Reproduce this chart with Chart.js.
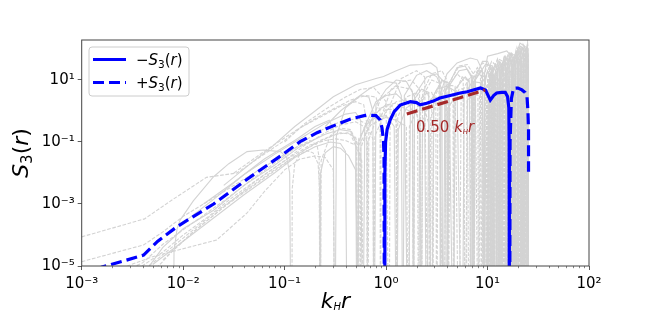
<!DOCTYPE html>
<html><head><meta charset="utf-8">
<script src="https://cdn.jsdelivr.net/npm/chart.js@4/dist/chart.umd.min.js"></script>
<style>html,body{margin:0;padding:0;background:#fff}canvas{display:block}</style>
</head><body>
<canvas id="c" width="654" height="333"></canvas>
<script>
// All series points are [log10(k_H r), log10(S3)].
// A value of -9 marks a sign change (the log curve plunges below the axis).
const minusS3 = [[-0.016,-9],[-0.012,-2.0],[-0.005,-1.0],[0.01,-0.6],[0.04,-0.29],[0.08,-0.02],[0.139,0.19],[0.24,0.30],[0.30,0.27],[0.336,0.2],[0.40,0.25],[0.465,0.32],[0.53,0.42],[0.633,0.5],[0.73,0.58],[0.80,0.62],[0.93,0.74],[0.98,0.68],[1.027,0.35],[1.06,0.5],[1.09,0.58],[1.14,0.6],[1.175,0.6],[1.197,0.47],[1.21,0.1],[1.213,-1.0],[1.215,-9]];
const plusS3 = [[-3.0,-5.35],[-2.8,-5.03],[-2.6,-4.85],[-2.39,-4.65],[-2.25,-4.2],[-2.06,-3.73],[-1.70,-3.0],[-1.37,-2.2],[-1.04,-1.45],[-0.847,-0.99],[-0.68,-0.70],[-0.52,-0.48],[-0.35,-0.26],[-0.19,-0.13],[-0.10,-0.15],[-0.058,-0.29],[-0.04,-0.55],[-0.026,-0.94],[-0.02,-1.5],[-0.016,-9],
  [0.5,null],
  [1.218,-9],[1.222,-1.0],[1.235,0.4],[1.256,0.73],[1.30,0.74],[1.339,0.68],[1.37,0.6],[1.389,0.46],[1.398,0.0],[1.404,-0.61],[1.404,-1.96]];
// reference power law 0.50 k_H r (actual values)
const refLineX = [1.6, 9.5];
const refLineY = [0.8, 4.75];
const xTickValues = [1e-3, 1e-2, 1e-1, 1e0, 1e1, 1e2];
const yTickValues = [1e-5, 1e-3, 1e-1, 1e1];

const graySolid = [
  [[-2.1,-9],[-2.09,-4.5],[-2.06,-3.8],[-2.03,-3.52],[-1.9,-2.9],[-1.70,-2.12],[-1.55,-1.7],[-1.37,-1.31],[-1.21,-1.26],[-1.04,-1.31],[-0.98,-1.5],[-0.95,-2.0],[-0.935,-9]],
  [[-2.4,-5.3],[-2.2,-4.4],[-2.0,-3.8],[-1.7,-3.2],[-1.4,-2.4],[-1.1,-1.75],[-0.85,-1.15],[-0.6,-0.75],[-0.45,-0.6],[-0.35,-0.65],[-0.3,-1.0],[-0.285,-9],[-0.27,-1.0],[-0.2,-0.45],[-0.1,-0.2],[0.0,-0.15],[0.08,-0.5],[0.105,-9],[0.12,-0.6],[0.2,0.1],[0.3,0.3],[0.38,0.1],[0.40,-9],[0.42,0.2],[0.5,0.7],[0.6,0.8],[0.7,0.6],[0.75,-9],[0.77,0.5],[0.85,0.95],[0.95,0.9],[0.99,-9],[1.01,0.8],[1.08,1.2],[1.12,0.9],[1.13,-9],[1.15,1.0],[1.22,1.3],[1.27,1.0],[1.28,-9],[1.30,1.2],[1.36,1.5],[1.395,1.3],[1.40,-9]],
  [[-1.8,-3.0],[-1.5,-2.3],[-1.2,-1.55],[-0.9,-0.95],[-0.7,-0.5],[-0.56,-0.3],[-0.52,-0.6],[-0.505,-9],[-0.49,-0.8],[-0.4,0.1],[-0.25,0.5],[-0.17,0.45],[-0.13,0.0],[-0.12,-9],[-0.10,0.2],[0.0,0.7],[0.1,1.0],[0.2,0.95],[0.26,0.6],[0.27,-9],[0.28,0.5],[0.4,1.1],[0.5,1.2],[0.58,0.9],[0.60,-9],[0.62,0.8],[0.72,1.3],[0.8,1.35],[0.85,1.1],[0.86,-9],[0.88,1.0],[0.98,1.5],[1.05,1.45],[1.08,-9],[1.1,1.3],[1.18,1.7],[1.24,1.6],[1.26,-9],[1.28,1.5],[1.32,2.1],[1.36,2.0],[1.39,1.6],[1.40,-9]],
  [[-1.6,-2.4],[-1.3,-1.6],[-1.14,-1.2],[-0.9,-0.5],[-0.7,0.0],[-0.52,0.46],[-0.3,0.85],[-0.1,1.05],[-0.025,1.11],[0.1,1.3],[0.24,1.48],[0.35,1.5],[0.44,1.55],[0.5,1.4],[0.53,0.9],[0.535,-9],[0.54,0.6],[0.6,1.2],[0.7,1.55],[0.83,1.71],[0.9,1.65],[0.95,1.3],[0.96,-9],[0.97,1.2],[1.0,1.77],[1.1,1.85],[1.19,1.94],[1.25,1.7],[1.255,-9],[1.26,1.6],[1.32,2.19],[1.36,2.1],[1.39,2.03],[1.40,1.5],[1.401,-9]],
  [[-2.0,-3.6],[-1.7,-2.85],[-1.4,-2.05],[-1.1,-1.4],[-0.8,-0.8],[-0.6,-0.4],[-0.4,-0.1],[-0.3,-0.05],[-0.25,-0.3],[-0.23,-9],[-0.21,-0.5],[-0.1,0.3],[0.0,0.5],[0.1,0.55],[0.18,0.3],[0.22,-9],[0.24,0.2],[0.35,0.7],[0.42,0.6],[0.45,-9],[0.47,0.5],[0.55,1.0],[0.62,0.9],[0.665,-9],[0.68,0.7],[0.78,1.1],[0.82,0.95],[0.84,-9],[0.86,0.9],[0.93,1.3],[0.97,1.2],[1.00,-9],[1.02,1.0],[1.07,1.45],[1.1,1.35],[1.11,-9],[1.13,1.2],[1.18,1.55],[1.21,1.4],[1.23,-9],[1.25,1.3],[1.29,1.75],[1.33,1.6],[1.35,-9],[1.36,1.4],[1.38,1.8],[1.40,1.2],[1.401,-9]],
  [[-0.65,-9],[-0.645,-2.0],[-0.6,-1.35],[-0.52,-1.15],[-0.45,-1.2],[-0.37,-1.45],[-0.3,-1.9],[-0.26,-9]],
  [[0.96,-9],[0.97,0.8],[1.0,1.3],[1.02,1.2],[1.025,-9],[1.035,1.0],[1.06,1.4],[1.08,1.3],[1.085,-9],[1.095,1.1],[1.12,1.6],[1.14,1.5],[1.145,-9],[1.155,1.3],[1.18,1.75],[1.2,1.6],[1.205,-9],[1.215,1.4],[1.24,1.85],[1.26,1.7],[1.265,-9],[1.275,1.5],[1.3,2.0],[1.32,1.9],[1.325,-9],[1.335,1.6],[1.36,2.1],[1.38,1.95],[1.385,-9]],
  [[1.0,-9],[1.01,0.9],[1.04,1.35],[1.055,1.2],[1.06,-9],[1.07,1.1],[1.1,1.55],[1.115,1.4],[1.12,-9],[1.13,1.2],[1.16,1.7],[1.175,1.5],[1.18,-9],[1.19,1.3],[1.22,1.8],[1.235,1.6],[1.24,-9],[1.25,1.4],[1.28,1.95],[1.295,1.8],[1.30,-9],[1.31,1.5],[1.34,2.05],[1.355,1.9],[1.36,-9],[1.37,1.7],[1.39,2.1],[1.40,1.9],[1.401,-9]],
  [[-2.3,-4.95],[-2.0,-4.2],[-1.7,-3.45],[-1.4,-2.7],[-1.1,-2.0],[-0.9,-1.5],[-0.7,-1.15],[-0.55,-1.0],[-0.45,-1.05],[-0.4,-1.3],[-0.38,-9]],
  [[-0.6,-0.5],[-0.45,0.0],[-0.3,0.4],[-0.15,0.75],[0.0,0.95],[0.1,0.9],[0.15,0.5],[0.165,-9],[0.18,0.5],[0.3,1.15],[0.4,1.3],[0.5,1.1],[0.55,0.7],[0.56,-9],[0.58,0.6],[0.7,1.4],[0.78,1.45],[0.84,1.1],[0.85,-9],[0.87,1.0],[0.95,1.6],[1.0,1.6],[1.04,1.3],[1.05,-9]]
];
const grayDashed = [
  [[-3,-4.06],[-2.38,-3.48],[-2.1,-2.85],[-1.77,-2.14],[-1.47,-2.0],[-1.25,-1.5],[-1.0,-0.95],[-0.85,-0.55],[-0.65,-0.2],[-0.45,0.15],[-0.3,0.3],[-0.22,0.2],[-0.19,-0.4],[-0.18,-9],[-0.17,-0.5],[-0.05,0.4],[0.1,0.8],[0.25,0.7],[0.31,0.2],[0.32,-9],[0.33,0.3],[0.45,1.0],[0.52,0.9],[0.57,-9],[0.59,0.7],[0.7,1.2],[0.76,1.0],[0.78,-9],[0.8,0.9],[0.9,1.4],[0.94,1.2],[0.96,-9],[0.98,1.1],[1.04,1.6],[1.09,1.45],[1.10,-9],[1.12,1.3],[1.17,1.75],[1.2,1.6],[1.22,-9],[1.24,1.4],[1.3,1.9],[1.34,1.7],[1.345,-9],[1.35,1.5],[1.38,1.95],[1.40,1.7],[1.401,-9]],
  [[-3,-4.86],[-2.39,-4.32],[-2.2,-3.9],[-2.0,-3.4],[-1.7,-2.8],[-1.4,-2.2],[-1.1,-1.6],[-0.9,-1.2],[-0.75,-0.95],[-0.68,-1.1],[-0.66,-1.5],[-0.65,-9],[-0.64,-1.6],[-0.55,-0.8],[-0.45,-0.55],[-0.35,-0.6],[-0.29,-1.0],[-0.28,-9],[-0.27,-0.9],[-0.15,-0.2],[0.0,0.2],[0.1,0.25],[0.2,0.05],[0.3,-0.1],[0.34,-0.6],[0.35,-9],[0.36,-0.3],[0.45,0.4],[0.55,0.5],[0.6,0.2],[0.61,-9],[0.63,0.2],[0.72,0.7],[0.8,0.75],[0.85,0.3],[0.855,-9],[0.87,0.4],[0.95,0.9],[0.99,0.7],[0.995,-9],[1.0,0.6],[1.05,1.1],[1.08,0.9],[1.09,-9],[1.1,0.8],[1.15,1.25],[1.19,1.1],[1.2,-9],[1.21,1.0],[1.26,1.5],[1.3,1.3],[1.31,-9],[1.32,1.2],[1.37,1.7],[1.40,1.4],[1.401,-9]],
  [[-2.8,-5.3],[-2.3,-4.7],[-1.67,-4.16],[-1.37,-3.29],[-1.2,-2.6],[-1.0,-1.9],[-0.85,-1.55],[-0.7,-1.45],[-0.6,-1.5],[-0.52,-1.9],[-0.505,-9]],
  [[-0.93,-9],[-0.925,-2.5],[-0.9,-1.7],[-0.85,-1.4],[-0.78,-1.28],[-0.72,-1.35],[-0.67,-1.7],[-0.655,-2.5],[-0.65,-9]],
  [[-2.6,-5.2],[-2.4,-4.9],[-2.2,-4.3],[-1.9,-3.6],[-1.6,-2.9],[-1.3,-2.15],[-1.0,-1.45],[-0.8,-0.95],[-0.6,-0.55],[-0.45,-0.35],[-0.3,-0.25],[-0.2,-0.4],[-0.13,-0.9],[-0.12,-9],[-0.11,-0.8],[0.0,0.0],[0.1,0.3],[0.2,0.35],[0.26,0.0],[0.27,-9],[0.28,-0.1],[0.38,0.55],[0.45,0.6],[0.49,0.2],[0.50,-9],[0.51,0.3],[0.6,0.85],[0.68,0.8],[0.72,-9],[0.74,0.6],[0.82,1.05],[0.88,0.9],[0.91,-9],[0.93,0.8],[1.0,1.25],[1.04,1.1],[1.05,-9],[1.06,1.0],[1.12,1.5],[1.16,1.35],[1.17,-9],[1.18,1.2],[1.24,1.65],[1.27,1.5],[1.29,-9],[1.3,1.4],[1.35,1.85],[1.38,1.7],[1.39,-9]],
  [[-2.5,-5.4],[-2.3,-4.9],[-2.0,-4.1],[-1.7,-3.3],[-1.4,-2.6],[-1.1,-1.9],[-0.85,-1.35],[-0.65,-0.95],[-0.5,-0.75],[-0.38,-0.7],[-0.3,-0.85],[-0.26,-1.4],[-0.255,-9],[-0.25,-1.2],[-0.15,-0.3],[-0.05,0.1],[0.05,0.2],[0.1,-0.1],[0.107,-9],[0.115,-0.2],[0.2,0.45],[0.3,0.6],[0.33,0.3],[0.335,-9],[0.34,0.2],[0.40,0.6],[0.45,0.3],[0.46,-9],[0.47,0.4],[0.55,0.95],[0.62,0.9],[0.66,0.5],[0.665,-9],[0.67,0.5],[0.75,1.1],[0.8,1.0],[0.82,-9],[0.84,0.9],[0.9,1.3],[0.93,1.15],[0.94,-9],[0.95,1.0],[1.0,1.5],[1.03,1.35],[1.04,-9],[1.05,1.2],[1.1,1.65],[1.13,1.5],[1.14,-9],[1.15,1.4],[1.2,1.8],[1.23,1.6],[1.24,-9],[1.25,1.5],[1.3,1.95],[1.33,1.8],[1.34,-9],[1.35,1.6],[1.38,2.05],[1.40,1.8],[1.401,-9]],
  [[-1.5,-2.0],[-1.2,-1.3],[-0.9,-0.65],[-0.7,-0.25],[-0.5,0.1],[-0.35,0.35],[-0.2,0.5],[-0.1,0.45],[-0.06,0.0],[-0.055,-9],[-0.05,-0.2],[0.05,0.7],[0.15,0.95],[0.25,1.0],[0.33,0.7],[0.345,-9],[0.36,0.6],[0.45,1.2],[0.55,1.3],[0.6,1.0],[0.61,-9],[0.62,0.9],[0.72,1.45],[0.8,1.5],[0.86,1.2],[0.865,-9],[0.88,1.1],[0.95,1.55],[1.0,1.5],[1.03,1.2],[1.035,-9],[1.04,1.2],[1.1,1.7],[1.15,1.6],[1.16,-9],[1.17,1.5],[1.22,1.9],[1.26,1.8],[1.27,-9],[1.28,1.6],[1.33,2.05],[1.37,1.9],[1.38,-9]],
  [[-2.2,-4.8],[-1.9,-3.9],[-1.6,-3.1],[-1.3,-2.4],[-1.0,-1.7],[-0.8,-1.25],[-0.6,-0.9],[-0.45,-0.7],[-0.35,-0.75],[-0.29,-1.2],[-0.28,-9],[-0.27,-1.1],[-0.15,-0.45],[0.0,-0.2],[0.1,-0.3],[0.2,-0.5],[0.22,-9],[0.23,-0.5],[0.3,0.0],[0.38,0.05],[0.42,-0.4],[0.43,-9],[0.44,-0.2],[0.52,0.4],[0.58,0.45],[0.6,0.0],[0.605,-9],[0.61,0.1],[0.7,0.55],[0.76,0.5],[0.79,-9],[0.8,0.3],[0.88,0.7],[0.905,0.5],[0.91,-9],[0.92,0.5],[0.98,0.85],[1.01,0.7],[1.02,-9],[1.03,0.7],[1.08,1.0],[1.11,0.8],[1.12,-9],[1.13,0.8],[1.18,1.1],[1.22,0.9],[1.23,-9],[1.24,0.9],[1.29,1.25],[1.32,1.0],[1.33,-9],[1.34,1.0],[1.37,1.3],[1.395,1.1],[1.40,-9]],
  [[0.98,-9],[0.99,0.7],[1.02,1.2],[1.04,1.1],[1.045,-9],[1.055,0.9],[1.09,1.45],[1.1,1.3],[1.105,-9],[1.115,1.1],[1.15,1.6],[1.16,1.45],[1.165,-9],[1.175,1.2],[1.21,1.7],[1.22,1.55],[1.225,-9],[1.235,1.3],[1.27,1.85],[1.28,1.7],[1.285,-9],[1.295,1.4],[1.33,2.0],[1.34,1.85],[1.345,-9],[1.355,1.5],[1.385,2.0],[1.395,1.8],[1.40,-9]],
  [[0.99,-9],[1.0,1.0],[1.03,1.45],[1.05,1.3],[1.065,-9],[1.075,1.2],[1.11,1.6],[1.125,1.45],[1.13,-9],[1.14,1.3],[1.17,1.8],[1.185,1.6],[1.19,-9],[1.2,1.4],[1.23,1.9],[1.245,1.7],[1.25,-9],[1.26,1.5],[1.29,2.05],[1.305,1.9],[1.31,-9],[1.32,1.6],[1.35,2.15],[1.37,2.0],[1.375,-9],[1.38,1.8],[1.395,2.2],[1.40,2.0],[1.401,-9]],
  [[-2.3,-5.2],[-2.1,-4.5],[-1.9,-3.9],[-1.6,-3.1],[-1.3,-2.3],[-1.0,-1.6],[-0.8,-1.1],[-0.6,-0.7],[-0.45,-0.45],[-0.3,-0.35],[-0.22,-0.5],[-0.19,-1.0],[-0.186,-9],[-0.18,-1.0],[-0.1,-0.3],[0.0,0.05],[0.08,0.05],[0.1,-0.4],[0.107,-9]],
  [[-2.45,-5.1],[-2.2,-4.55],[-2.0,-4.0],[-1.75,-3.4],[-1.5,-2.75],[-1.2,-2.05],[-0.95,-1.5],[-0.75,-1.1],[-0.6,-0.95],[-0.5,-0.9],[-0.4,-0.95],[-0.3,-1.1],[-0.24,-1.6],[-0.22,-9]],
  [[-1.0,-1.0],[-0.8,-0.4],[-0.6,0.05],[-0.4,0.45],[-0.25,0.7],[-0.12,0.75],[-0.05,0.5],[0.0,0.3],[0.03,-9],[0.04,0.2],[0.15,1.05],[0.3,1.3],[0.38,1.1],[0.42,-9]]
];

const FONT = "'DejaVu Sans', sans-serif";
const toPts = arr => arr.map(([lx, ly]) => ({x: Math.pow(10, lx), y: ly === null ? null : Math.pow(10, ly)}));
const SUP = {'-':'\u207B','0':'\u2070','1':'\u00B9','2':'\u00B2','3':'\u00B3','4':'\u2074','5':'\u2075','6':'\u2076','7':'\u2077','8':'\u2078','9':'\u2079'};
const powLabel = v => '10' + String(Math.round(Math.log10(v))).split('').map(c => SUP[c]).join('');

const datasets = [];
datasets.push({data: refLineX.map((x, i) => ({x, y: refLineY[i]})), borderColor: '#a52a2a', borderWidth: 3.2, borderDash: [11, 5], order: 0});
datasets.push({data: toPts(minusS3), borderColor: '#0000ff', borderWidth: 3.2, order: 1});
datasets.push({data: toPts(plusS3), borderColor: '#0000ff', borderWidth: 3.2, borderDash: [11, 5], order: 1});
graySolid.forEach(c => datasets.push({data: toPts(c), borderColor: '#d3d3d3', borderWidth: 1.1, order: 5}));
grayDashed.forEach(c => datasets.push({data: toPts(c), borderColor: '#d3d3d3', borderWidth: 1.1, borderDash: [3.7, 1.6], order: 5}));
datasets.forEach(d => { d.pointRadius = 0; d.fill = false; d.tension = 0; d.spanGaps = false; d.clip = 0; });

function rich(ctx, parts, x, y, align) {
  let w = 0;
  parts.forEach(p => { ctx.font = p[1]; w += ctx.measureText(p[0]).width; });
  let cx = align === 'center' ? x - w / 2 : x;
  parts.forEach(p => { ctx.font = p[1]; ctx.fillText(p[0], cx, y + (p[2] || 0)); cx += ctx.measureText(p[0]).width; });
}

const deco = {
  id: 'deco',
  afterDraw(chart) {
    const ctx = chart.ctx, a = chart.chartArea, xs = chart.scales.x;
    ctx.save();
    ctx.strokeStyle = '#333'; ctx.lineWidth = 0.6;
    for (let d = -3; d <= 1; d++) for (let m = 2; m <= 9; m++) {
      const px = Math.round(xs.getPixelForValue(m * Math.pow(10, d))) + 0.5;
      ctx.beginPath(); ctx.moveTo(px, a.bottom); ctx.lineTo(px, a.bottom + 2.2); ctx.stroke();
    }
    ctx.strokeStyle = '#444'; ctx.lineWidth = 1;
    ctx.strokeRect(a.left, a.top, a.right - a.left, a.bottom - a.top);
    ctx.textBaseline = 'alphabetic'; ctx.textAlign = 'left'; ctx.fillStyle = '#000';
    rich(ctx, [['k', 'italic 22px ' + FONT], ['H', 'italic 10px ' + FONT, 2], ['r', 'italic 22px ' + FONT]], (a.left + a.right) / 2, 308, 'center');
    ctx.save(); ctx.translate(28, (a.top + a.bottom) / 2); ctx.rotate(-Math.PI / 2);
    rich(ctx, [['S', 'italic 22px ' + FONT], ['3', '15px ' + FONT, 4], ['(', '22px ' + FONT], ['r', 'italic 22px ' + FONT], [')', '22px ' + FONT]], 0, 0, 'center');
    ctx.restore();
    ctx.fillStyle = '#a52a2a';
    rich(ctx, [['0.50 ', '15px ' + FONT], ['k', 'italic 15px ' + FONT], ['H', 'italic 7px ' + FONT, 2], ['r', 'italic 15px ' + FONT]], 416, 132, 'left');
    const lx = 89, ly = 47, lw = 100, lh = 49, r = 3;
    ctx.fillStyle = 'rgba(255,255,255,0.8)'; ctx.strokeStyle = '#cccccc'; ctx.lineWidth = 1;
    ctx.beginPath();
    ctx.moveTo(lx + r, ly); ctx.lineTo(lx + lw - r, ly); ctx.quadraticCurveTo(lx + lw, ly, lx + lw, ly + r);
    ctx.lineTo(lx + lw, ly + lh - r); ctx.quadraticCurveTo(lx + lw, ly + lh, lx + lw - r, ly + lh);
    ctx.lineTo(lx + r, ly + lh); ctx.quadraticCurveTo(lx, ly + lh, lx, ly + lh - r);
    ctx.lineTo(lx, ly + r); ctx.quadraticCurveTo(lx, ly, lx + r, ly); ctx.closePath();
    ctx.fill(); ctx.stroke();
    ctx.strokeStyle = '#0000ff'; ctx.lineWidth = 3.2;
    ctx.beginPath(); ctx.moveTo(93, 59.5); ctx.lineTo(126, 59.5); ctx.stroke();
    ctx.setLineDash([11, 5]);
    ctx.beginPath(); ctx.moveTo(93, 82.5); ctx.lineTo(126, 82.5); ctx.stroke();
    ctx.setLineDash([]);
    ctx.fillStyle = '#000';
    rich(ctx, [['\u2212', '15px ' + FONT], ['S', 'italic 15px ' + FONT], ['3', '10.5px ' + FONT, 3], ['(', '15px ' + FONT], ['r', 'italic 15px ' + FONT], [')', '15px ' + FONT]], 136, 65, 'left');
    rich(ctx, [['+', '15px ' + FONT], ['S', 'italic 15px ' + FONT], ['3', '10.5px ' + FONT, 3], ['(', '15px ' + FONT], ['r', 'italic 15px ' + FONT], [')', '15px ' + FONT]], 136, 88, 'left');
    ctx.restore();
  }
};

new Chart(document.getElementById('c'), {
  type: 'line',
  data: {datasets},
  options: {
    responsive: false, animation: false, events: [],
    layout: {padding: {left: 0, right: 65, top: 40, bottom: 0}},
    plugins: {legend: {display: false}, tooltip: {enabled: false}},
    scales: {
      x: {
        type: 'logarithmic', min: 1e-3, max: 1e2,
        afterBuildTicks: s => { s.ticks = xTickValues.map(v => ({value: v})); },
        afterFit: s => { s.height = 67; },
        ticks: {callback: v => powLabel(v), color: '#000', font: {family: FONT, size: 15}, padding: 5, maxRotation: 0, autoSkip: false},
        grid: {display: true, drawOnChartArea: false, drawTicks: true, tickLength: 4, color: '#333', lineWidth: 0.8},
        border: {display: false}
      },
      y: {
        type: 'logarithmic', min: 1e-5, max: 195,
        afterBuildTicks: s => { s.ticks = yTickValues.map(v => ({value: v})); },
        afterFit: s => { s.width = 81.7; },
        ticks: {callback: v => powLabel(v), color: '#000', font: {family: FONT, size: 15}, padding: 3, autoSkip: false},
        grid: {display: true, drawOnChartArea: false, drawTicks: true, tickLength: 4, color: '#333', lineWidth: 0.8},
        border: {display: false}
      }
    }
  },
  plugins: [deco]
});
</script>
</body></html>
